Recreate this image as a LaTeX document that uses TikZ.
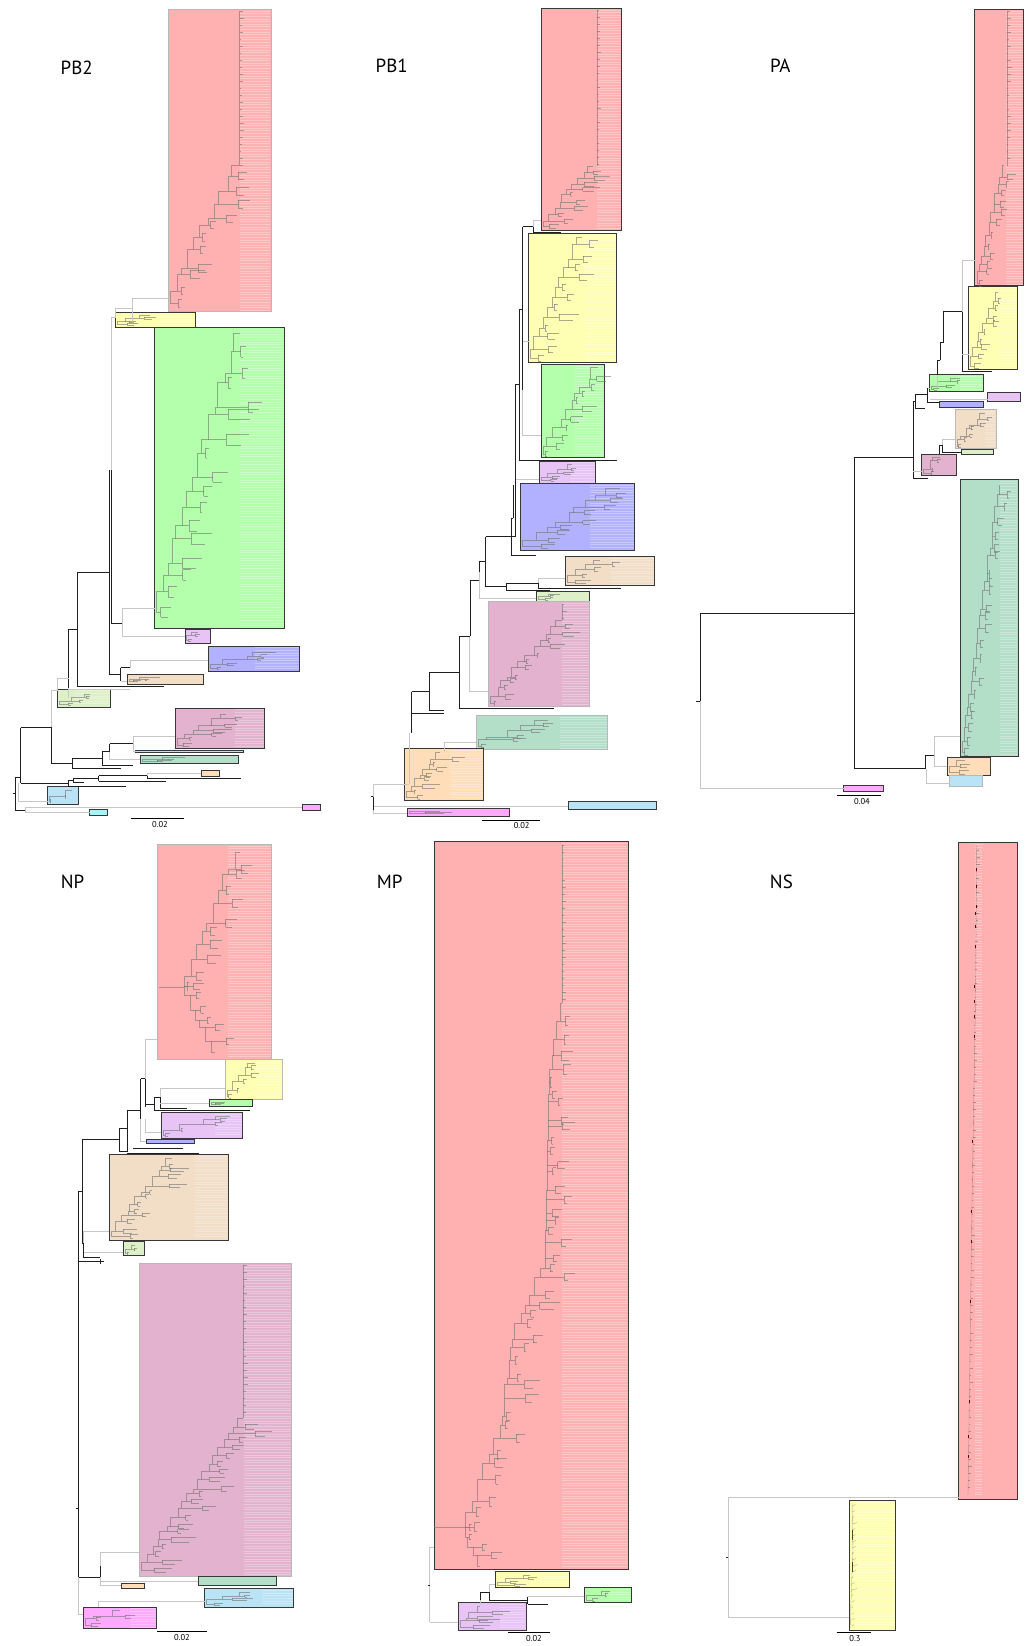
\documentclass[tikz,border=0pt]{standalone}
\usepackage{fontspec}
\setmainfont{PT Sans}
\definecolor{cpink}{HTML}{FFB1B1}
\definecolor{cyellow}{HTML}{FFFFB3}
\definecolor{cgreen}{HTML}{B3FFAB}
\definecolor{clav}{HTML}{E7C3F6}
\definecolor{cblue}{HTML}{B1B1FF}
\definecolor{ctan}{HTML}{F2DDC6}
\definecolor{clgreen}{HTML}{DDF0C8}
\definecolor{cmauve}{HTML}{E3B2CF}
\definecolor{cteal}{HTML}{B3DFC9}
\definecolor{cpeach}{HTML}{FFDDB8}
\definecolor{clblue}{HTML}{BAE3F5}
\definecolor{ccyan}{HTML}{AAF2F8}
\definecolor{cmag}{HTML}{FFA9FF}
\tikzset{
 dk/.style={draw=black!88, line width=0.9pt},
 gy/.style={draw=black!22, line width=0.7pt},
 tr/.style={draw=black!55, line width=0.35pt, opacity=0.6},
 leaf/.style={draw=white, line width=0.45pt, opacity=0.3},
 bd/.style={draw=black!78, line width=0.9pt},
 bl/.style={draw=black!28, line width=0.6pt},
 lab/.style={font=\fontsize{19}{22}\selectfont, inner sep=0pt},
 sc/.style={font=\fontsize{8.5}{10}\selectfont, inner sep=0pt},
 sbar/.style={draw=black, line width=0.6pt},
}
\newcommand\myclade[6]{\filldraw[#6, fill=#5] (#1,#2) rectangle (#3,#4);}
\newcommand\myleaves[4]{%
  \pgfmathsetmacro\lvA{#2+1.6}\pgfmathsetmacro\lvB{#2+4.2}\pgfmathsetmacro\lvC{#4-1.2}%
  \foreach \yy in {\lvA,\lvB,...,\lvC} {\draw[leaf] (#1,\yy) -- (#3-0.8,\yy);}%
}
\newcommand\myspine[3]{%
  \draw[tr] (#1,#2) -- (#1,#3);
  \pgfmathsetmacro\spA{#2+7}%
  \foreach \yy in {#2,\spA,...,#3} {\pgfmathsetmacro\spL{1+4*rnd}\draw[tr] (#1,\yy) -- (#1+\spL,\yy);}%
}
\newcommand\myladder[6]{%
  \xdef\lxPrev{#1}\xdef\lyPrev{#2}%
  \foreach \k in {1,...,#5}{%
    \let\lxA\lxPrev \let\lyA\lyPrev
    \pgfmathsetmacro\lxB{#1+(#3-#1)*\k/#5+(\k<#5)*(rnd-0.5)*abs(#3-#1)/#5*0.9}%
    \pgfmathsetmacro\lyB{#2+(#4-#2)*\k/#5+(\k<#5)*(rnd-0.5)*abs(#4-#2)/#5*0.7}%
    \pgfmathsetmacro\lLen{#6*(0.15+0.85*rnd)}%
    \pgfmathsetmacro\lDd{abs(#4-#2)/#5*0.3}%
    \pgfmathsetmacro\lFx{\lxA+\lLen*(0.3+0.4*rnd)}%
    \draw[tr] (\lxA,\lyA) -- (\lxA,\lyB) -- (\lxB,\lyB);
    \draw[tr] (\lxA,\lyA) -- (\lFx,\lyA);
    \draw[tr] (\lFx,\lyA-\lDd) -- (\lFx,\lyA+\lDd);
    \draw[tr] (\lFx,\lyA-\lDd) -- (\lxA+\lLen,\lyA-\lDd);
    \draw[tr] (\lFx,\lyA+\lDd) -- (\lxA+0.8*\lLen,\lyA+\lDd);
    \xdef\lxPrev{\lxB}\xdef\lyPrev{\lyB}%
  }%
}
\begin{document}
\begin{tikzpicture}[x=1pt,y=-1pt]
\pgfmathsetseed{11}
\fill[white] (0,0) rectangle (1026,1646);
\useasboundingbox (0,0) rectangle (1026,1646);

% ================= PB2 =================
\myclade{168}{9.5}{271}{311.5}{cpink}{bl}
\myclade{115.5}{312}{195}{327}{cyellow}{bd}
\myclade{154.5}{327.5}{284.5}{628}{cgreen}{bd}
\myclade{185}{629}{210}{643.5}{clav}{bd}
\myclade{208}{646}{299.5}{671}{cblue}{bd}
\myclade{127}{674.5}{203}{684}{ctan}{bd}
\myclade{57.5}{689}{110.5}{707}{clgreen}{bd}
\myclade{175}{708}{264.5}{748}{cmauve}{bd}
\myclade{135.5}{750}{243.5}{752.5}{clblue}{bd}
\myclade{140}{755}{238}{763}{cteal}{bd}
\myclade{201}{770}{219}{776}{cpeach}{bd}
\myclade{47.5}{786.5}{78}{804}{clblue}{bd}
\myclade{89.7}{809.8}{107.8}{815}{ccyan}{bd}
\myclade{302.4}{804}{320}{810}{cmag}{bd}
\myleaves{240}{9.5}{271}{311.5}
\myleaves{240}{327.5}{284.5}{628}
\myleaves{255}{646}{299.5}{671}
\myleaves{235}{708}{264.5}{748}
\myleaves{160}{312}{195}{327}
\myleaves{75}{689}{110.5}{707}
\myspine{239.5}{11}{165}
\myladder{170}{303}{239.5}{165}{11}{38}
\myladder{117}{324}{150}{315}{3}{30}
\myladder{156}{612}{240}{333}{16}{45}
\myladder{186}{640}{198}{632}{2}{10}
\myladder{210}{668}{276}{652}{4}{20}
\myladder{129}{681}{160}{677}{2}{40}
\myladder{59}{704}{90}{694}{3}{18}
\myladder{177}{745}{226}{714}{6}{35}
\myladder{142}{761}{185}{757}{2}{50}
\myladder{49}{801}{72}{790}{2}{6}
% backbone
\draw[gy] (111,317) -- (111,470);
\draw[gy] (111,317) -- (115.5,317);
\draw[gy] (115.5,317) -- (115.5,308.6) -- (132.3,308.6);
\draw[gy] (132.3,298.3) -- (132.3,322);
\draw[gy] (132.3,298.3) -- (168,298.3);
\draw[dk] (109,470) -- (109,674.4);
\draw[dk] (111,470) -- (111,623) -- (122.2,623);
\draw[gy] (122.2,608.5) -- (122.2,636.6);
\draw[gy] (122.2,608.5) -- (154.5,608.5);
\draw[gy] (122.2,636.6) -- (185,636.6);
\draw[dk] (109,572) -- (77,572) -- (77,686.5) -- (164,686.5);
\draw[dk] (109,674.4) -- (120.5,674.4);
\draw[dk] (120.5,667.5) -- (120.5,681);
\draw[dk] (120.5,667.5) -- (130,667.5);
\draw[gy] (130,660.7) -- (130,667.5);
\draw[gy] (130,660.7) -- (208,660.7);
\draw[gy] (120.5,681) -- (127,681);
\draw[dk] (77,629) -- (68.6,629) -- (68.6,688);
\draw[gy] (68.6,688) -- (68.6,698);
\draw[gy] (68.6,689.5) -- (130,689.5);
\draw[gy] (57.6,678) -- (68.6,678);
\draw[gy] (57.6,678) -- (57.6,690);
\draw[gy] (51.5,690) -- (57.6,690);
\draw[gy] (51.5,690) -- (51.5,727.7);
\draw[dk] (51.5,727.7) -- (51.5,763.7);
\draw[dk] (20.7,727.7) -- (51.5,727.7);
\draw[dk] (20.7,727.7) -- (20.7,783.3);
\draw[dk] (51.5,763.7) -- (72,763.7);
\draw[dk] (72,758.6) -- (72,768);
\draw[dk] (72,758.6) -- (102,758.6);
\draw[dk] (72,768) -- (121,768);
\draw[dk] (102,751.7) -- (102,765.4);
\draw[dk] (102,751.7) -- (109.5,751.7);
\draw[dk] (102,765.4) -- (133,765.4);
\draw[dk] (109.5,743.8) -- (109.5,751.7);
\draw[dk] (109.5,743.8) -- (133,743.8);
\draw[gy] (133,736) -- (133,751);
\draw[gy] (133,736) -- (175,736);
\draw[gy] (133,751) -- (135.5,751);
\draw[gy] (109.5,751.7) -- (109.5,759) -- (140,759);
\draw[dk] (20.7,783.3) -- (68,783.3);
\draw[dk] (68,780) -- (68,786.7);
\draw[dk] (68,780) -- (73,780);
\draw[dk] (73,778) -- (73,782.5);
\draw[dk] (73,778) -- (98.7,778);
\draw[dk] (98.7,775.8) -- (98.7,781);
\draw[dk] (98.7,775.8) -- (147,775.8);
\draw[dk] (98.7,781) -- (166,781);
\draw[gy] (147,773.5) -- (147,775.8);
\draw[gy] (147,773.5) -- (201,773.5);
\draw[dk] (147,775.8) -- (147,778.2) -- (240.5,778.2);
\draw[dk] (73,782.5) -- (83.7,782.5);
\draw[dk] (68,786.7) -- (125.5,786.7);
\draw[gy] (18.4,783.3) -- (18.4,801) -- (47.5,801);
\draw[dk] (15,777.5) -- (15,810);
\draw[dk] (12.5,793.7) -- (15,793.7);
\draw[dk] (15,777.5) -- (20.7,777.5);
\draw[dk] (15,810) -- (25,810);
\draw[gy] (25,807.7) -- (25,812.5);
\draw[gy] (25,807.7) -- (302.4,807.7);
\draw[gy] (25,812.5) -- (89.7,812.5);
\coordinate (sbPBtwoA) at (131.2,818);
\coordinate (sbPBtwoB) at (183.5,818);
\draw[sbar] (sbPBtwoA) -- (sbPBtwoB);
\node[sc] (scPBtwo) at (160,825) {0.02};
\node[lab] (tPBtwo) at (76.7,68.3) {PB2};

% ================= PB1 =================
\myclade{541.3}{8.3}{621.7}{230}{cpink}{bd}
\myclade{528.7}{233.3}{616.3}{362.7}{cyellow}{bd}
\myclade{541}{364.3}{604}{457.7}{cgreen}{bd}
\myclade{539}{461}{595.7}{483.3}{clav}{bd}
\myclade{520}{483.3}{634.3}{550.7}{cblue}{bd}
\myclade{565}{556.3}{654.3}{585.3}{ctan}{bd}
\myclade{536.3}{591.3}{589.7}{601.3}{clgreen}{bd}
\myclade{488.3}{601.3}{589.7}{706.7}{cmauve}{bl}
\myclade{476.3}{715.3}{607.3}{749.3}{cteal}{bl}
\myclade{404.3}{748.7}{483.3}{800}{cpeach}{bd}
\myclade{407.3}{808}{509.3}{816}{cmag}{bd}
\myclade{568.3}{801.3}{656.7}{809}{clblue}{bd}
\myleaves{597}{8.3}{621.7}{230}
\myleaves{585}{233.3}{616.3}{362.7}
\myleaves{575}{364.3}{604}{457.7}
\myleaves{570}{461}{595.7}{483.3}
\myleaves{590}{483.3}{634.3}{550.7}
\myleaves{610}{556.3}{654.3}{585.3}
\myleaves{562}{601.3}{589.7}{706.7}
\myleaves{560}{715.3}{607.3}{749.3}
\myleaves{450}{748.7}{483.3}{800}
\myspine{596.7}{10}{166}
\myladder{543}{226}{593}{166}{10}{30}
\myladder{530}{358}{582}{237}{12}{32}
\myladder{543}{454}{598}{367}{10}{25}
\myladder{541}{480}{572}{464}{4}{18}
\myladder{522}{546}{620}{488}{9}{35}
\myladder{567}{582}{600}{560}{4}{30}
\myladder{538}{599}{560}{594}{2}{15}
\myspine{562}{604}{620}
\myladder{490}{703}{562}{620}{12}{30}
\myladder{478}{746}{548}{720}{5}{45}
\myladder{406}{797}{440}{752}{8}{30}
\myladder{409}{813}{440}{811}{1}{60}
% backbone
\draw[gy] (533.3,220) -- (541.3,220);
\draw[gy] (533.3,220) -- (533.3,226.7);
\draw[dk] (522.7,226.7) -- (533.3,226.7);
\draw[dk] (533.3,226.7) -- (533.3,232.7) -- (560.7,232.7);
\draw[dk] (522.7,226.7) -- (522.7,390);
\draw[gy] (522.7,390) -- (522.7,435) -- (541,435);
\draw[gy] (522.7,341.7) -- (528.7,341.7);
\draw[dk] (519.3,309.3) -- (522.7,309.3);
\draw[dk] (519.3,309.3) -- (519.3,460) -- (617.3,460);
\draw[dk] (515,384.3) -- (519.3,384.3);
\draw[dk] (515,384.3) -- (515,536.7);
\draw[gy] (515.7,479) -- (538.7,479);
\draw[dk] (513.3,485) -- (513.3,518);
\draw[dk] (511.3,518) -- (511.3,555) -- (535.7,555);
\draw[dk] (511.3,518) -- (513.3,518);
\draw[dk] (485.7,536.7) -- (515,536.7);
\draw[dk] (485.7,536.7) -- (485.7,586.7) -- (506.3,586.7);
\draw[dk] (506.3,583.3) -- (506.3,590.7);
\draw[dk] (506.3,583.3) -- (538.3,583.3);
\draw[dk] (538.3,583.3) -- (538.3,588.3) -- (620.7,588.3);
\draw[gy] (538.3,578.3) -- (538.3,583.3);
\draw[gy] (538.3,578.3) -- (565,578.3);
\draw[dk] (506.3,590.7) -- (550,590.7);
\draw[dk] (479,561.7) -- (485.7,561.7);
\draw[dk] (479,561.7) -- (479,571.7);
\draw[gy] (479,571.7) -- (479,598.3) -- (536.3,598.3);
\draw[dk] (470,580) -- (479,580);
\draw[dk] (470,580) -- (470,636);
\draw[gy] (469.3,636) -- (469.3,691) -- (488.3,691);
\draw[dk] (459.3,636) -- (470,636);
\draw[dk] (459.3,636) -- (459.3,708.3) -- (554,708.3);
\draw[dk] (429.3,672.3) -- (459.3,672.3);
\draw[dk] (429.3,672.3) -- (429.3,710.7) -- (444,710.7);
\draw[dk] (411.7,691.7) -- (429.3,691.7);
\draw[dk] (411.7,691.7) -- (411.7,733);
\draw[dk] (411.7,713.3) -- (444,713.3);
\draw[gy] (409.3,733) -- (409.3,784);
\draw[gy] (444.3,742.3) -- (476.3,742.3);
\draw[gy] (444.3,742.3) -- (444.3,751.7);
\draw[gy] (373.3,784.3) -- (409.3,784.3);
\draw[gy] (373.3,784.3) -- (373.3,813.3) -- (407.3,813.3);
\draw[gy] (373.3,806.7) -- (568.3,806.7);
\draw[dk] (373.3,796.7) -- (373.3,810);
\draw[dk] (370.5,796.7) -- (373.3,796.7);
\coordinate (sbPBoneA) at (482.3,820);
\coordinate (sbPBoneB) at (540,820);
\draw[sbar] (sbPBoneA) -- (sbPBoneB);
\node[sc] (scPBone) at (521.7,826) {0.02};
\node[lab] (tPBone) at (391.7,66.2) {PB1};

% ================= PA =================
\myclade{974.7}{9.3}{1023.3}{285.7}{cpink}{bd}
\myclade{968.7}{286}{1017.2}{369.5}{cyellow}{bd}
\myclade{929.5}{374.7}{983.3}{391.2}{cgreen}{bd}
\myclade{987.6}{392}{1020.2}{401.2}{clav}{bd}
\myclade{939.8}{401.2}{983.3}{407.4}{cblue}{bd}
\myclade{955.4}{409.5}{996}{448.4}{ctan}{bl}
\myclade{961}{449.4}{993.4}{454}{clgreen}{bd}
\myclade{921.9}{454}{956.4}{475.6}{cmauve}{bd}
\myclade{960}{479.4}{1018}{756}{cteal}{bd}
\myclade{947.1}{757}{990.3}{775.6}{cpeach}{bd}
\myclade{949.5}{775.6}{982.3}{786}{clblue}{bl}
\myclade{843.9}{785.2}{883.7}{791}{cmag}{bd}
\myleaves{1006}{9.3}{1023.3}{285.7}
\myleaves{1000}{286}{1017.2}{369.5}
\myleaves{1000}{479.4}{1018}{756}
\myleaves{985}{409.5}{996}{448.4}
\myleaves{960}{374.7}{983.3}{391.2}
\myspine{1006.7}{11}{165}
\myladder{977}{283}{1004}{165}{12}{15}
\myladder{970}{366}{998}{292}{9}{15}
\myladder{931}{389}{960}{378}{3}{20}
\myladder{957}{446}{985}{413}{6}{12}
\myladder{923}{473}{940}{457}{3}{12}
\myladder{962}{752}{1000}{485}{22}{14}
\myladder{949}{772}{965}{760}{2}{20}
% backbone
\draw[dk] (700,613) -- (700,701);
\draw[dk] (696,701) -- (700,701);
\draw[gy] (700,701) -- (700,788.7) -- (843.9,788.7);
\draw[dk] (700,613) -- (854.9,613);
\draw[dk] (854.9,457.3) -- (854.9,768.7);
\draw[dk] (854.9,457.3) -- (913,457.3);
\draw[dk] (854.9,768.7) -- (925.9,768.7);
\draw[dk] (925.9,755) -- (925.9,768.7);
\draw[gy] (925.9,768.7) -- (925.9,783.5) -- (949.5,783.5);
\draw[dk] (925.9,755) -- (934.6,755);
\draw[gy] (934.6,736.3) -- (934.6,766) -- (947.1,766);
\draw[gy] (934.6,736.3) -- (960,736.3);
\draw[dk] (913,401.2) -- (913,478) -- (927.6,478);
\draw[gy] (913,471.8) -- (921.9,471.8);
\draw[dk] (913,401.2) -- (915.7,401.2);
\draw[dk] (915.7,394.3) -- (915.7,408.8);
\draw[dk] (915.7,394.3) -- (927.9,394.3);
\draw[dk] (915.7,408.8) -- (925,408.8);
\draw[dk] (927.9,388) -- (927.9,402) -- (939.8,402);
\draw[gy] (927.9,388) -- (929.5,388);
\draw[gy] (930,399.5) -- (987.6,399.5);
\draw[dk] (937.5,360) -- (937.5,374.7);
\draw[dk] (937.5,360) -- (940,360);
\draw[dk] (940,342.7) -- (940,360);
\draw[dk] (940,342.7) -- (943.3,342.7);
\draw[dk] (943.3,311.7) -- (943.3,342.7);
\draw[dk] (943.3,311.7) -- (962.4,311.7);
\draw[dk] (962.4,311.7) -- (962.4,371) -- (991.7,371);
\draw[gy] (962.4,260) -- (962.4,311.7);
\draw[gy] (962.4,260) -- (974.7,260);
\draw[gy] (962.4,354.7) -- (968.7,354.7);
\draw[gy] (937.5,374.7) -- (937.5,388);
\draw[dk] (939.5,445) -- (939.5,454);
\draw[dk] (939.5,445) -- (942.5,445);
\draw[gy] (942.5,439) -- (942.5,445);
\draw[gy] (942.5,439) -- (955.4,439);
\draw[dk] (942.5,445) -- (942.5,452) -- (961,452);
\coordinate (sbPAA) at (837.3,795.5);
\coordinate (sbPAB) at (880.5,795.5);
\draw[sbar] (sbPAA) -- (sbPAB);
\node[sc] (scPA) at (862,802) {0.04};
\node[lab] (tPA) at (780.3,66.2) {PA};

% ================= NP =================
\myclade{157.3}{844.3}{271.7}{1059}{cpink}{bl}
\myclade{225.3}{1059.3}{282.7}{1099}{cyellow}{bl}
\myclade{209}{1099.3}{252.7}{1106.5}{cgreen}{bd}
\myclade{161.3}{1112.3}{242.7}{1138.2}{clav}{bd}
\myclade{146.3}{1139.3}{194}{1143.6}{cblue}{bd}
\myclade{109.3}{1154.4}{228.7}{1240.2}{ctan}{bd}
\myclade{123}{1241}{144.7}{1255.3}{clgreen}{bd}
\myclade{139.3}{1263.4}{291.7}{1576}{cmauve}{bl}
\myclade{198.3}{1576}{276}{1585}{cteal}{bd}
\myclade{121.3}{1583.8}{144.3}{1588.4}{cpeach}{bd}
\myclade{204.7}{1588.8}{293.3}{1607}{clblue}{bd}
\myclade{83.3}{1607}{156.3}{1628.2}{cmag}{bd}
\myleaves{228}{844.3}{271.7}{1059}
\myleaves{255}{1059.3}{282.7}{1099}
\myleaves{215}{1112.3}{242.7}{1138.2}
\myleaves{195}{1154.4}{228.7}{1240.2}
\myleaves{244}{1263.4}{291.7}{1576}
\myleaves{262}{1588.8}{293.3}{1607}
\myleaves{130}{1607}{156.3}{1628.2}
\draw[tr] (158.5,986.7) -- (184.3,986.7);
\myladder{184.3}{986}{240}{852}{10}{30}
\myladder{184.3}{986}{215}{1052}{6}{30}
\myladder{227}{1096}{255}{1063}{5}{20}
\myladder{211}{1104}{225}{1102}{1}{25}
\myladder{163}{1135}{230}{1116}{4}{20}
\myladder{111}{1236}{172}{1158}{12}{35}
\myladder{125}{1253}{135}{1245}{2}{6}
\myspine{243.3}{1265}{1418}
\myladder{141}{1570}{243}{1418}{20}{40}
\myladder{206}{1604}{250}{1592}{3}{35}
\myladder{85}{1625}{120}{1610}{3}{30}
% backbone
\draw[dk] (78,1191.9) -- (78,1577.2);
\draw[dk] (75.5,1508.4) -- (78,1508.4);
\draw[dk] (78,1191.9) -- (82,1191.9);
\draw[dk] (82,1139.3) -- (82,1243);
\draw[dk] (82,1139.3) -- (119,1139.3);
\draw[dk] (82,1243) -- (83.5,1243) -- (83.5,1257.2) -- (100,1257.2);
\draw[dk] (78,1261) -- (104,1261);
\draw[dk] (100,1258.5) -- (100,1263.5);
\draw[gy] (83.5,1231.3) -- (109.3,1231.3);
\draw[gy] (83.5,1231.3) -- (83.5,1243);
\draw[gy] (83.5,1252.6) -- (123,1252.6);
\draw[dk] (119,1128) -- (119,1151.3);
\draw[dk] (119,1128) -- (127.3,1128);
\draw[dk] (119,1151.3) -- (126.7,1151.3);
\draw[dk] (127.3,1110.7) -- (127.3,1152);
\draw[dk] (127.3,1110.7) -- (140.7,1110.7);
\draw[dk] (133.3,1148) -- (182.7,1148);
\draw[dk] (127.3,1153) -- (199,1153);
\draw[dk] (140.7,1078.6) -- (140.7,1119.2);
\draw[dk] (140.7,1078.6) -- (145.3,1078.6);
\draw[dk] (145.3,1078.6) -- (145.3,1107);
\draw[gy] (145.7,1039.3) -- (145.7,1078.6);
\draw[gy] (145.7,1039.3) -- (157.3,1039.3);
\draw[dk] (145.3,1104) -- (154.3,1104);
\draw[dk] (154.3,1097.2) -- (154.3,1110.7);
\draw[dk] (154.3,1097.2) -- (160.3,1097.2);
\draw[dk] (160.3,1097.2) -- (160.3,1108.8) -- (186.7,1108.8);
\draw[dk] (154.3,1110.7) -- (250,1110.7);
\draw[gy] (160.3,1088.3) -- (225.3,1088.3);
\draw[gy] (160.3,1088.3) -- (160.3,1097.2);
\draw[gy] (160.3,1103.8) -- (209,1103.8);
\draw[gy] (145.3,1119.2) -- (145.3,1132.8) -- (161.3,1132.8);
\draw[gy] (140.7,1119.2) -- (140.7,1141.5) -- (146.3,1141.5);
\draw[dk] (78,1577.2) -- (100,1577.2);
\draw[dk] (100,1566.4) -- (100,1577.2);
\draw[gy] (100,1552) -- (100,1566.4);
\draw[gy] (100,1552) -- (139.3,1552);
\draw[gy] (100,1577.2) -- (100,1585.7) -- (121.3,1585.7);
\draw[gy] (100,1581) -- (198.3,1581);
\draw[gy] (78,1577.2) -- (78,1614.7) -- (83.3,1614.7);
\draw[gy] (98.3,1601) -- (204.7,1601);
\draw[gy] (98.3,1601) -- (98.3,1607);
\coordinate (sbNPA) at (157.3,1631.3);
\coordinate (sbNPB) at (206.7,1631.3);
\draw[sbar] (sbNPA) -- (sbNPB);
\node[sc] (scNP) at (182,1638) {0.02};
\node[lab] (tNP) at (72.5,882) {NP};

% ================= MP =================
\myclade{434.3}{841.8}{628.7}{1569.3}{cpink}{bd}
\myclade{495.3}{1571.7}{569.3}{1587.3}{cyellow}{bd}
\myclade{584.3}{1587.7}{631}{1602.3}{cgreen}{bd}
\myclade{458.3}{1602.7}{526}{1630}{clav}{bd}
\myleaves{562}{841.8}{628.7}{1569.3}
\myleaves{540}{1571.7}{569.3}{1587.3}
\myleaves{610}{1587.7}{631}{1602.3}
\myleaves{500}{1602.7}{526}{1630}
\myspine{561.7}{844.7}{1002.6}
\myladder{549}{1082}{561.7}{1003}{5}{20}
\myladder{545}{1268}{549}{1082}{16}{30}
\myladder{514}{1339}{545}{1268}{6}{35}
\myladder{500}{1438}{514}{1339}{8}{35}
\myladder{465}{1527}{500}{1438}{6}{35}
\draw[tr] (434.3,1526.7) -- (465,1526.7);
\myladder{465}{1527}{480}{1566}{4}{25}
\myladder{497}{1585}{530}{1575}{3}{30}
\myladder{586}{1600}{610}{1591}{2}{15}
\myladder{460}{1627}{480}{1606}{4}{35}
% backbone
\draw[gy] (429.7,1547.3) -- (429.7,1622.3);
\draw[dk] (427.5,1585) -- (429.7,1585);
\draw[gy] (429.7,1547.3) -- (434.3,1547.3);
\draw[gy] (429.7,1622.3) -- (458.3,1622.3);
\draw[dk] (480,1600) -- (480,1592.3) -- (489.3,1592.3) -- (489.3,1600) -- (527.7,1600);
\draw[dk] (527.7,1596.7) -- (527.7,1604);
\draw[dk] (527.7,1604) -- (548,1604);
\draw[gy] (527.7,1596.7) -- (584.3,1596.7);
\draw[gy] (489.3,1584.3) -- (489.3,1592.3);
\draw[gy] (489.3,1584.3) -- (495.3,1584.3);
\draw[gy] (480,1600) -- (480,1605);
\coordinate (sbMPA) at (507.7,1632.3);
\coordinate (sbMPB) at (549.7,1632.3);
\draw[sbar] (sbMPA) -- (sbMPB);
\node[sc] (scMP) at (534,1639) {0.02};
\node[lab] (tMP) at (389.6,882) {MP};

% ================= NS =================
\myclade{958.3}{842.5}{1017.7}{1499.6}{cpink}{bd}
\myclade{849}{1500.7}{895.7}{1630}{cyellow}{bd}
\myleaves{975}{843}{982.5}{1498}
\myleaves{855}{1500.7}{895.7}{1630}
\draw[tr] (976.7,845) -- (975.5,1000) -- (972,1200) -- (968,1495);
\foreach \yy in {850,857,...,1490} {
  \pgfmathsetmacro\nsx{976.7-(\yy-845)*0.0134}
  \pgfmathsetmacro\nsl{0.5+3*rnd}
  \draw[tr] (\nsx,\yy) -- (\nsx+\nsl,\yy);
}
\foreach \yy in {868,885,905,912,925,945,985,1000,1015,1035,1140,1210,1240,1300,1400,1435,1455} {
  \pgfmathsetmacro\nsx{976.7-(\yy-845)*0.0134}
  \draw[draw=red!45!black, line width=0.8pt] (\nsx,\yy) -- (\nsx,\yy+2.5);
}
\draw[tr] (852,1503) -- (853,1550) -- (851,1600) -- (850.5,1628);
\foreach \yy in {1506,1512,...,1626} {
  \pgfmathsetmacro\nsl{0.5+5*rnd}
  \draw[tr] (852,\yy) -- (852+\nsl,\yy-1.5);
}
\draw[draw=black!60!olive, line width=0.8pt] (852.5,1530) -- (852.5,1540);
\draw[draw=black!60!olive, line width=0.8pt] (852.5,1562) -- (852.5,1572);
\draw[gy] (728.3,1497.3) -- (958.7,1497.3);
\draw[gy] (728.3,1497.3) -- (728.3,1617.3) -- (849,1617.3);
\draw[dk] (726,1557.3) -- (728.3,1557.3);
\coordinate (sbNSA) at (836.7,1632.7);
\coordinate (sbNSB) at (870.7,1632.7);
\draw[sbar] (sbNSA) -- (sbNSB);
\node[sc] (scNS) at (855,1639) {0.3};
\node[lab] (tNS) at (781.4,882) {NS};
\end{tikzpicture}
\end{document}
